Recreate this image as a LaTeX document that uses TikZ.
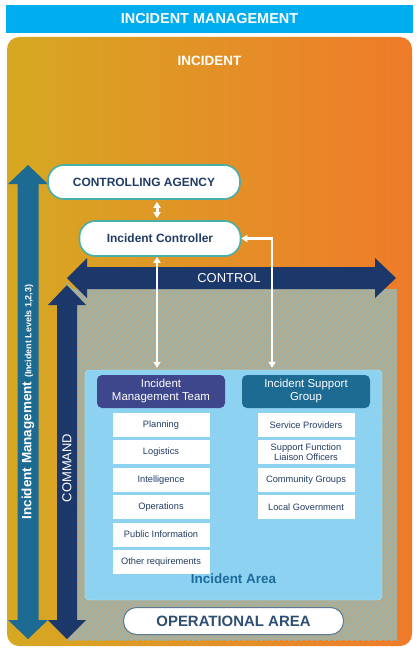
\documentclass[tikz,border=0pt]{standalone}
\usepackage{fontspec}
\setmainfont{Liberation Sans}
\usetikzlibrary{positioning, arrows.meta, patterns.meta}

\definecolor{barcyan}{HTML}{00ADEE}
\definecolor{gold}{HTML}{D6A822}
\definecolor{tangerine}{HTML}{EF7B2A}
\definecolor{steel}{HTML}{1D6A93}
\definecolor{navy}{HTML}{1C376A}
\definecolor{indigo}{HTML}{3E478B}
\definecolor{skyblue}{HTML}{8DD3F1}
\definecolor{inktext}{HTML}{213C62}
\definecolor{tealedge}{HTML}{46B0AE}
\definecolor{hatchbase}{HTML}{BBA986}
\definecolor{hatchline}{HTML}{96B4AE}
\definecolor{areatext}{HTML}{1E6A9C}
\definecolor{oaedge}{HTML}{5E7891}
\definecolor{oatext}{HTML}{2E4F70}

\newcommand{\fsz}[1]{\fontsize{#1}{#1}\selectfont}

\begin{document}
\begin{tikzpicture}[x=1bp, y=-1bp, node distance=27.4bp, on grid,
    pill/.style={draw=tealedge, line width=1.6bp, fill=white, rounded corners=16bp,
      minimum height=34bp, text=inktext, font=\bfseries\fsz{12}},
    header/.style={rounded corners=5bp, minimum width=128bp, minimum height=33bp,
      align=center, text=white, font=\fontsize{11.5}{13}\selectfont},
    item/.style={fill=white, minimum width=97bp, minimum height=24bp, align=center,
      text=inktext, font=\fontsize{9.3}{10}\selectfont},
    wire/.style={white, line width=2.4bp,
      {Triangle[width=7bp,length=6bp]}-{Triangle[width=7bp,length=6bp]}}]
  \useasboundingbox (0,0) rectangle (418,653);

  % background
  \node[fill=barcyan, minimum width=406bp, minimum height=28bp, text=white,
    font=\bfseries\fsz{14.5}] (title) at (209.5,19) {INCIDENT MANAGEMENT};
  \shade[left color=gold, right color=tangerine, rounded corners=12bp]
    (7,37) rectangle (412,646);
  \node[text=white, font=\bfseries\fsz{13.5}] (incident) at (209.5,61) {INCIDENT};

  % hatched command area
  \fill[hatchbase] (67,289) rectangle (397,640);
  \fill[pattern={Lines[angle=45,distance=4bp,line width=1.8bp]}, pattern color=hatchline]
    (67,289) rectangle (397,640);

  % block arrows
  \fill[steel] (17.5,184) -- (8,184) -- (28,165) -- (48,184) -- (38.5,184)
    -- (38.5,620) -- (48,620) -- (28,639) -- (8,620) -- (17.5,620) -- cycle;
  \fill[navy] (57,305) -- (48,305) -- (67,285) -- (86,305) -- (77,305)
    -- (77,620) -- (86,620) -- (67,639) -- (48,620) -- (57,620) -- cycle;
  \fill[navy] (87,267) -- (87,258) -- (67,278) -- (87,298) -- (87,289)
    -- (375,289) -- (375,298) -- (396,278) -- (375,258) -- (375,267) -- cycle;
  \draw[hatchline, line width=1.2bp] (66,283) -- (77,294);

  \node[rotate=90, text=white, font=\bfseries\fsz{13.5}] (imlabel) at (28,402)
    {Incident Management {\fsz{9}(Incident Levels 1,2,3)}};
  \node[rotate=90, text=white, font=\fsz{13}] (cmdlabel) at (67,468) {COMMAND};
  \node[text=white, font=\fsz{13}] (ctrllabel) at (229,278) {CONTROL};

  % incident area
  \node[fill=skyblue, draw=skyblue!60!white, rounded corners=4bp,
    minimum width=297bp, minimum height=230bp] (area) at (233.5,485) {};
  \node[text=areatext, font=\bfseries\fsz{13.5}, above=13bp of area.south] (arealabel)
    {Incident Area};

  \node[header, fill=indigo] (imt) at (161,391.5) {Incident\\Management Team};
  \node[header, fill=steel] (isg) at (306,391.5) {Incident Support\\Group};

  \node[item, below=33.5bp of imt] (plan) {Planning};
  \node[item, below=of plan] (logi) {Logistics};
  \node[item, below=of logi] (intel) {Intelligence};
  \node[item, below=of intel] (ops) {Operations};
  \node[item, below=of ops] (pubinfo) {Public Information};
  \node[item, below=of pubinfo] (other) {Other requirements};

  \node[item, below=33.5bp of isg] (serv) {Service Providers};
  \node[item, below=of serv] (liaison) {Support Function\\Liaison Officers};
  \node[item, below=of liaison] (comm) {Community Groups};
  \node[item, below=of comm] (localgov) {Local Government};

  % control chain
  \node[pill, minimum width=192bp] (ca) at (144,182) {CONTROLLING AGENCY};
  \node[pill, minimum width=161bp, minimum height=35bp] (ic) at (160,238.5) {Incident Controller};

  \draw[wire, line width=3bp, shorten <=2bp, shorten >=2bp]
    ([xshift=-3bp]ic.north) -- ([xshift=-3bp]ic.north |- ca.south);
  \draw[wire, shorten >=7bp] ([xshift=-3bp]ic.south) -- ([xshift=-3bp]ic.south |- imt.north);
  \draw[wire, shorten >=7bp] (ic.east) -| ([xshift=-34bp]isg.north);

  \node[draw=oaedge, line width=1bp, fill=white, rounded corners=13bp,
    minimum width=220bp, minimum height=27bp, text=oatext, font=\bfseries\fsz{15}]
    (opsarea) at (233.5,621) {OPERATIONAL AREA};
\end{tikzpicture}
\end{document}
